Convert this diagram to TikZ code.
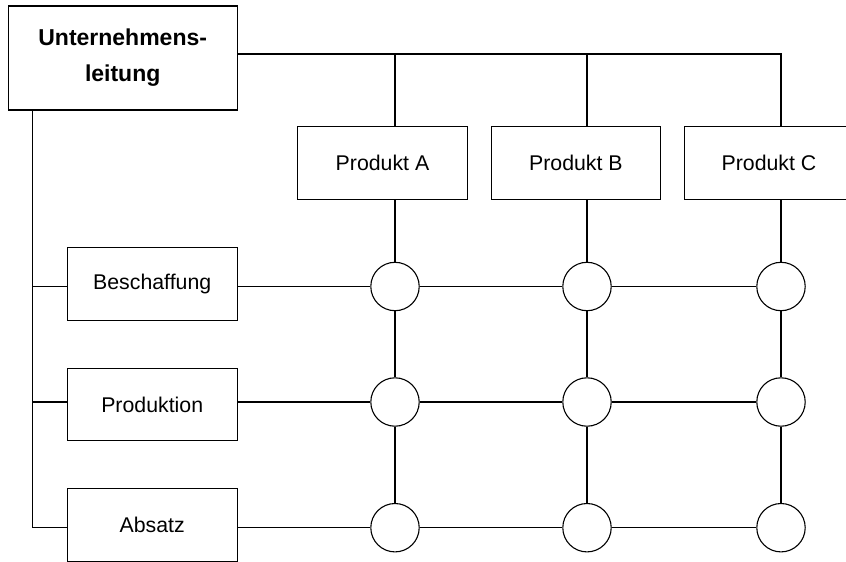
\documentclass[tikz,border=0pt]{standalone}
\usepackage{fontspec}
\setmainfont{Liberation Sans}
\begin{document}
\begin{tikzpicture}[x=1pt,y=-1pt,
  line width=1.1pt,
  box/.style={draw,rectangle,inner sep=0pt,fill=white,
    font=\fontsize{21.3}{25}\selectfont},
  prodbox/.style={box,minimum width=169.6pt,minimum height=72.6pt},
  funcbox/.style={box,minimum width=169.7pt,minimum height=72.7pt},
  headbox/.style={box,minimum width=228.7pt,minimum height=104pt,
    align=center,font=\fontsize{23}{36}\selectfont\bfseries},
  node/.style={draw,circle,inner sep=0pt,minimum size=48.4pt,fill=white}]
\useasboundingbox (0,0) rectangle (846,562);
\clip (0,0) rectangle (846,562);

% management box
\node[headbox] (ul) at (122.7,58) {Unternehmens-\\leitung};

% product divisions
\node[prodbox] (pA) at (382.5,163) {Produkt A};
\node[prodbox] (pB) at (575.9,163) {Produkt B};
\node[prodbox] (pC) at (769,163) {Produkt C};

% functional divisions
\node[funcbox] (fB) at (152.2,283.7) {Beschaffung};
\node[funcbox] (fP) at (152.2,404.5) {Produktion};
\node[funcbox] (fA) at (152.2,524.7) {Absatz};

% matrix cells
\foreach \c/\x in {A/395,B/587,C/781}{
  \node[node] (\c1) at (\x,286.5) {};
  \node[node] (\c2) at (\x,402) {};
  \node[node] (\c3) at (\x,527.7) {};
}

% bus from the management box to the products
\coordinate (tA) at (395,54);
\coordinate (tB) at (587,54);
\coordinate (tC) at (781,54);
\draw (ul.east |- tA) -- (tC) -- (pC.north -| tC);
\draw (tA) -- (pA.north -| tA);
\draw (tB) -- (pB.north -| tB);

% spine from the management box to the functions
\coordinate (sp) at (32.5,527.7);
\draw (ul.south -| sp) -- (sp) -- (fA.west |- sp);
\draw (sp |- A1) -- (fB.west |- A1);
\draw (sp |- A2) -- (fP.west |- A2);

% product columns
\draw (pA.south -| A1) -- (A1) -- (A2) -- (A3);
\draw (pB.south -| B1) -- (B1) -- (B2) -- (B3);
\draw (pC.south -| C1) -- (C1) -- (C2) -- (C3);

% function rows
\draw (fB.east |- A1) -- (A1) -- (B1) -- (C1);
\draw (fP.east |- A2) -- (A2) -- (B2) -- (C2);
\draw (fA.east |- A3) -- (A3) -- (B3) -- (C3);
\end{tikzpicture}
\end{document}
